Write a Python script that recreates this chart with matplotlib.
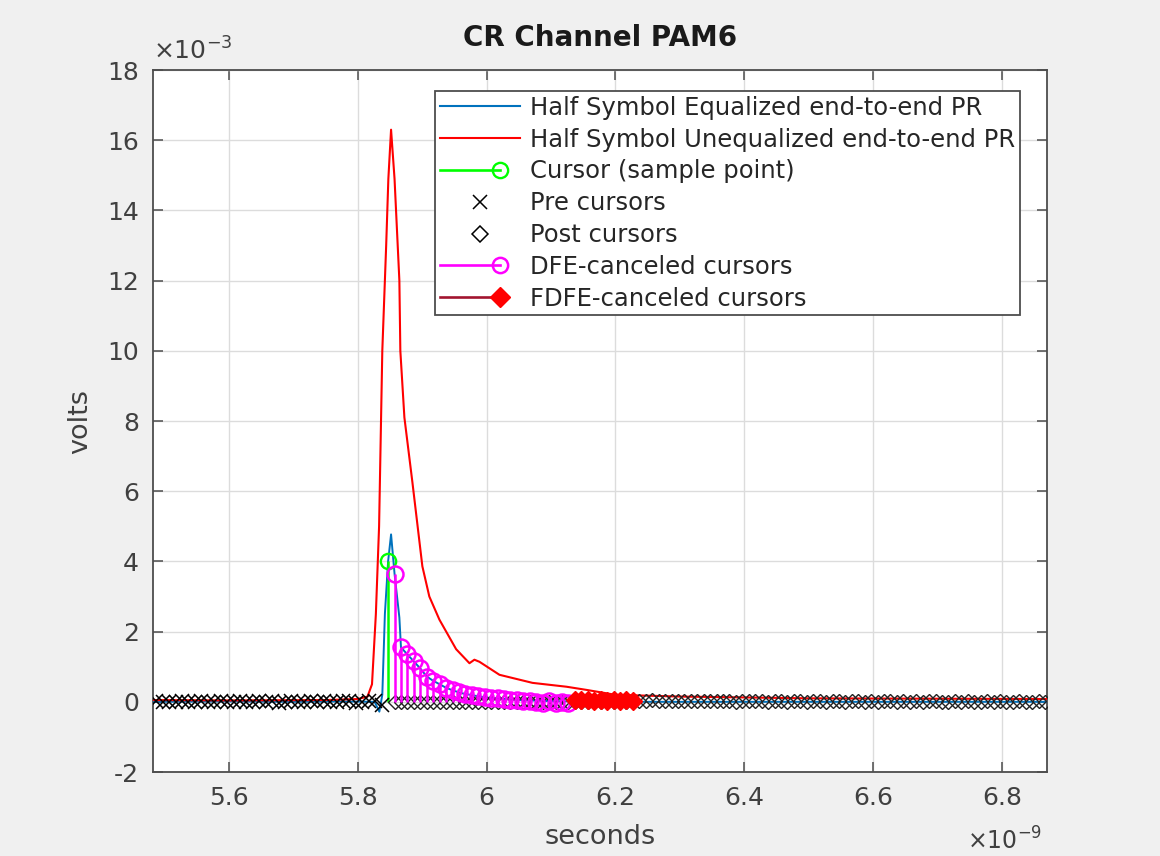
import numpy as np
import matplotlib
matplotlib.use("Agg")
import matplotlib.pyplot as plt
from matplotlib.lines import Line2D
from matplotlib.legend_handler import HandlerBase
from matplotlib.ticker import FuncFormatter, MultipleLocator

# time in ns, amplitude in mV (converted to s / V when plotted)
T_SYM = 0.01          # symbol spacing of the cursor samples
t_cursor = 5.847
cursor_mv = 4.0

# pre cursors, nearest first (k = 1..36)
pre_mv = [-0.10, 0.03, 0.02, 0.00, -0.02, 0.01, 0.02, 0.00, -0.01, 0.01,
          0.00, 0.02, -0.01, 0.00, 0.01, 0.00, -0.02, 0.01, 0.00, 0.01,
          -0.01, 0.00, 0.02, 0.00, -0.01, 0.01, 0.00, 0.00, 0.01, -0.01,
          0.00, 0.01, 0.00, -0.01, 0.00, 0.01]

# DFE-canceled post cursors (k = 1..28)
dfe_mv = [3.65, 1.55, 1.35, 1.15, 0.95, 0.72, 0.60, 0.50, 0.40, 0.33,
          0.27, 0.22, 0.20, 0.17, 0.15, 0.12, 0.10, 0.08, 0.06, 0.05,
          0.03, 0.02, 0.00, -0.02, 0.01, -0.03, 0.00, -0.02]

# FDFE-canceled post cursors (k = 29..38)
fdfe_mv = [0.05, 0.04, 0.06, 0.03, 0.05, 0.02, 0.04, 0.03, 0.05, 0.02]

# residual post cursors (k = 1..102)
post_mv = [0.00, 0.00, 0.00, 0.00, 0.00, 0.00, 0.00, 0.00, 0.00, 0.00,
           0.00, 0.00, 0.00, 0.00, 0.00, 0.00, 0.00, 0.00, 0.00, 0.00,
           0.00, 0.00, 0.00, 0.00, 0.00, 0.00, 0.00, 0.00, 0.00, 0.00,
           0.00, 0.00, 0.00, 0.00, 0.00, 0.00, 0.00, 0.00, 0.03, 0.02,
           0.04, 0.02, 0.03, 0.01, 0.02, 0.03, 0.01, 0.02, 0.02, 0.01,
           0.03, 0.01, 0.02, 0.00, 0.02, 0.01, 0.01, 0.02, 0.00, 0.01,
           0.02, 0.00, 0.01, 0.01, 0.00, 0.02, 0.01, 0.00, 0.01, 0.01,
           0.00, 0.01, 0.02, 0.00, 0.01, 0.00, 0.01, 0.01, 0.00, 0.01,
           0.00, 0.01, 0.00, 0.01, 0.01, 0.00, 0.00, 0.01, 0.00, 0.01,
           0.00, 0.00, 0.01, 0.00, 0.01, 0.00, 0.00, 0.01, 0.00, 0.00,
           0.01, 0.00]

# half-symbol equalized pulse response
eq_t = [5.482, 5.60, 5.70, 5.78, 5.826, 5.8334, 5.838, 5.842, 5.847, 5.8516,
        5.857, 5.8645, 5.867, 5.877, 5.887, 5.897, 5.907, 5.917, 5.927,
        5.937, 5.947, 5.96, 5.98, 6.00, 6.05, 6.10, 6.20, 6.50, 6.87]
eq_mv = [0.00, 0.01, 0.00, 0.01, 0.00, -0.28, 0.20, 2.50, 4.00, 4.77,
         3.65, 2.40, 1.55, 1.35, 1.15, 0.95, 0.72, 0.60, 0.50,
         0.40, 0.33, 0.25, 0.18, 0.12, 0.05, 0.02, 0.00, 0.00, 0.00]

# half-symbol unequalized pulse response
uneq_t = [5.482, 5.60, 5.75, 5.80, 5.815, 5.822, 5.828, 5.833, 5.838, 5.844,
          5.8474, 5.8516, 5.857, 5.8645, 5.866, 5.8723, 5.8847, 5.9002,
          5.911, 5.9267, 5.9526, 5.9733, 5.981, 5.9889, 6.0199, 6.0712,
          6.124, 6.155, 6.20, 6.30, 6.50, 6.87]
uneq_mv = [0.05, 0.04, 0.05, 0.08, 0.15, 0.50, 2.50, 5.00, 10.0, 13.0,
           14.9, 16.3, 14.9, 12.0, 10.0, 8.10, 6.26, 3.86,
           3.00, 2.34, 1.50, 1.10, 1.20, 1.14, 0.77, 0.54,
           0.43, 0.34, 0.20, 0.15, 0.10, 0.08]

ns, mv = 1e-9, 1e-3

pre_t = [t_cursor - T_SYM * (k + 1) for k in range(len(pre_mv))]
post_t = [t_cursor + T_SYM * (k + 1) for k in range(len(post_mv))]
dfe_t = post_t[:len(dfe_mv)]
fdfe_t = post_t[len(dfe_mv):len(dfe_mv) + len(fdfe_mv)]

BLUE = "#0072BD"
RED = "#FF0000"
GREEN = "#00FF00"
MAG = "#FF00FF"
DKRED = "#A2142F"
TXT = "#404040"

fig = plt.figure(figsize=(11.6, 8.56), dpi=100, facecolor="#F0F0F0")
ax = fig.add_axes([0.1319, 0.0981, 0.7707, 0.8201])
ax.set_facecolor("white")

ax.plot(np.array(eq_t) * ns, np.array(eq_mv) * mv, color=BLUE, lw=1.4, zorder=3)
ax.plot(np.array(uneq_t) * ns, np.array(uneq_mv) * mv, color=RED, lw=1.5, zorder=3)

# cursor stem
ax.vlines(t_cursor * ns, 0, cursor_mv * mv, color=GREEN, lw=1.8, zorder=4)
ax.plot([t_cursor * ns], [cursor_mv * mv], ls="none", marker="o", ms=11,
        mfc="none", mec=GREEN, mew=1.7, zorder=4)

ax.plot(np.array(pre_t) * ns, np.array(pre_mv) * mv, ls="none", marker="x",
        ms=9.5, color="black", mew=1.1, zorder=4)
ax.plot(np.array(post_t) * ns, np.array(post_mv) * mv, ls="none", marker="D",
        ms=7.5, mfc="none", mec="#222222", mew=1.0, zorder=4)

# DFE stems
ax.vlines(np.array(dfe_t) * ns, 0, np.array(dfe_mv) * mv, color=MAG, lw=1.8, zorder=5)
ax.plot(np.array(dfe_t) * ns, np.array(dfe_mv) * mv, ls="none", marker="o", ms=11.5,
        mfc="none", mec=MAG, mew=1.8, zorder=5)

# FDFE stems
ax.vlines(np.array(fdfe_t) * ns, 0, np.array(fdfe_mv) * mv, color=DKRED, lw=1.5, zorder=6)
ax.plot(np.array(fdfe_t) * ns, np.array(fdfe_mv) * mv, ls="none", marker="D", ms=9,
        mfc=RED, mec=RED, zorder=6)

ax.set_xlim(5.482e-9, 6.870e-9)
ax.set_ylim(-2e-3, 18e-3)
ax.xaxis.set_major_locator(MultipleLocator(0.2e-9))
ax.yaxis.set_major_locator(MultipleLocator(2e-3))
ax.xaxis.set_major_formatter(FuncFormatter(lambda v, p: f"{round(v * 1e9, 3):g}"))
ax.yaxis.set_major_formatter(FuncFormatter(lambda v, p: f"{round(v * 1e3, 3):g}"))
ax.grid(True, color="#DCDCDC", lw=1.0, zorder=0)
ax.set_axisbelow(True)
ax.tick_params(direction="in", top=True, right=True, length=7, width=1.1,
               labelsize=18, labelcolor=TXT, color="#4d4d4d", pad=10)
for s in ax.spines.values():
    s.set_color("#4d4d4d")
    s.set_linewidth(1.3)

ax.set_title("CR Channel PAM6", fontsize=20, fontweight="bold", color="#1a1a1a", pad=17)
ax.set_xlabel("seconds", fontsize=19.5, color=TXT, labelpad=10)
ax.set_ylabel("volts", fontsize=19.5, color=TXT, labelpad=10)
ax.text(0.0, 1.008, r"$\times10^{-3}$", transform=ax.transAxes, ha="left", va="bottom",
        fontsize=18, color=TXT)
ax.text(0.995, -0.079, r"$\times10^{-9}$", transform=ax.transAxes, ha="right", va="top",
        fontsize=17, color=TXT)


class StemHandler(HandlerBase):
    # line with the marker at its right end, like a stem legend entry
    def create_artists(self, legend, orig, xdescent, ydescent, width, height, fontsize, trans):
        y = height / 2 - ydescent
        xe = -xdescent + 0.74 * width
        line = Line2D([-xdescent, xe], [y, y], color=orig.get_color(),
                      lw=orig.get_linewidth(), transform=trans)
        mark = Line2D([xe], [y], ls="none", marker=orig.get_marker(),
                      ms=orig.get_markersize(), mfc=orig.get_markerfacecolor(),
                      mec=orig.get_markeredgecolor(), mew=orig.get_markeredgewidth(),
                      transform=trans)
        return [line, mark]


h_eq = Line2D([], [], color=BLUE, lw=1.5)
h_un = Line2D([], [], color=RED, lw=1.5)
h_cur = Line2D([], [], color=GREEN, lw=1.9, marker="o", ms=11, mfc="none", mec=GREEN, mew=1.7)
h_pre = Line2D([], [], ls="none", marker="x", ms=9.5, color="black", mew=1.1)
h_post = Line2D([], [], ls="none", marker="D", ms=8.5, mfc="none", mec="black", mew=1.1)
h_dfe = Line2D([], [], color=MAG, lw=1.9, marker="o", ms=11, mfc="none", mec=MAG, mew=1.8)
h_fdfe = Line2D([], [], color=DKRED, lw=1.9, marker="D", ms=10.5, mfc=RED, mec=RED)

leg = ax.legend([h_eq, h_un, h_cur, h_pre, h_post, h_dfe, h_fdfe],
                ["Half Symbol Equalized end-to-end PR",
                 "Half Symbol Unequalized end-to-end PR",
                 "Cursor (sample point)", "Pre cursors", "Post cursors",
                 "DFE-canceled cursors", "FDFE-canceled cursors"],
                handler_map={h_cur: StemHandler(), h_dfe: StemHandler(), h_fdfe: StemHandler()},
                loc="upper right", bbox_to_anchor=(0.970, 0.970), borderaxespad=0,
                fontsize=17.5, handlelength=3.3, handletextpad=0.4, borderpad=0.2,
                labelspacing=0.32, fancybox=False, framealpha=1, edgecolor="#4d4d4d")
leg.get_frame().set_linewidth(1.3)
for t in leg.get_texts():
    t.set_color("#262626")
leg.set_zorder(10)

fig.savefig("out.png", dpi=100, facecolor=fig.get_facecolor())
